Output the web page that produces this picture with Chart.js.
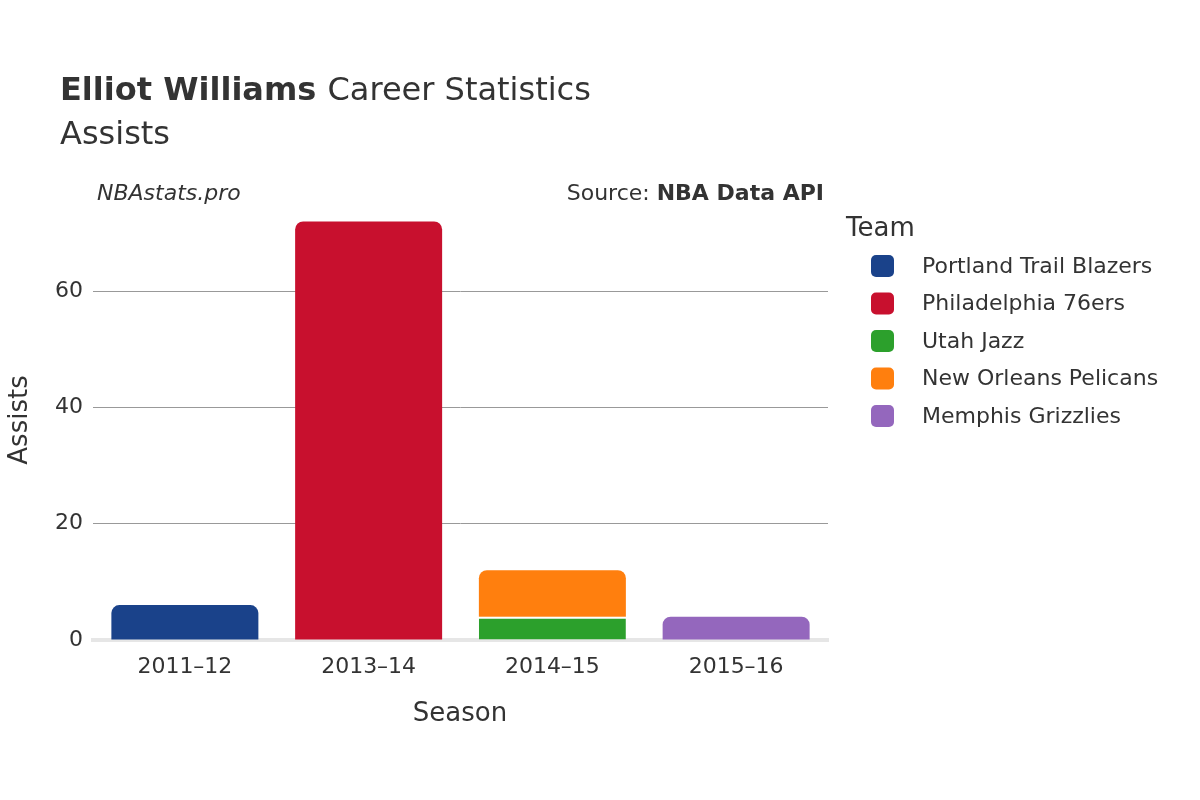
<!DOCTYPE html>
<html>
<head>
<meta charset="utf-8">
<script src="https://cdn.jsdelivr.net/npm/chart.js@4"></script>
<style>
  body { margin: 0; background: #fff; }
  #wrap { width: 1200px; height: 800px; }
</style>
</head>
<body>
<div id="wrap"><canvas id="chart" width="1200" height="800"></canvas></div>
<script>
const seasons = ['2011–12', '2013–14', '2014–15', '2015–16'];
const teams = ['Portland Trail Blazers', 'Philadelphia 76ers', 'Utah Jazz', 'New Orleans Pelicans', 'Memphis Grizzlies'];
const teamColors = ['#1a428a', '#c8102e', '#2ca02c', '#ff7f0e', '#9467bd'];
const portland = [6, null, null, null];
const philadelphia = [null, 72, null, null];
const utah = [null, null, 4, null];
const pelicans = [null, null, 8, null];
const memphis = [null, null, null, 4];
const yTicks = [0, 20, 40, 60];

const FONT = "'DejaVu Sans', 'Noto Sans', sans-serif";
const top8 = { topLeft: 8, topRight: 8, bottomLeft: 0, bottomRight: 0 };
const noRadius = 0;

// draws titles, axis titles and the legend around the plot
const decorations = {
  id: 'decorations',
  afterDraw(chart) {
    const ctx = chart.ctx;
    ctx.save();
    ctx.fillStyle = '#333';
    ctx.textBaseline = 'alphabetic';
    ctx.textAlign = 'left';
    ctx.font = 'bold 32px ' + FONT;
    ctx.fillText('Elliot Williams', 60, 100);
    const w = ctx.measureText('Elliot Williams ').width;
    ctx.font = '32px ' + FONT;
    ctx.fillText('Career Statistics', 60 + w, 100);
    ctx.fillText('Assists', 60, 144);

    ctx.font = 'italic 22px ' + FONT;
    ctx.fillText('NBAstats.pro', 97, 200);
    ctx.textAlign = 'right';
    ctx.font = 'bold 22px ' + FONT;
    ctx.fillText('NBA Data API', 824, 200);
    const bw = ctx.measureText('NBA Data API').width;
    ctx.font = '22px ' + FONT;
    ctx.fillText('Source: ', 824 - bw, 200);

    ctx.textAlign = 'center';
    ctx.font = '26px ' + FONT;
    ctx.fillText('Season', 460, 721);
    ctx.save();
    ctx.translate(27, 420);
    ctx.rotate(-Math.PI / 2);
    ctx.fillText('Assists', 0, 0);
    ctx.restore();

    ctx.textAlign = 'left';
    ctx.font = '26px ' + FONT;
    ctx.fillText('Team', 846, 236);
    ctx.font = '22px ' + FONT;
    teams.forEach((t, i) => {
      const y = 266 + i * 37.5;
      ctx.fillStyle = teamColors[i];
      ctx.beginPath();
      ctx.roundRect(871, y - 11, 23, 22, 5);
      ctx.fill();
      ctx.fillStyle = '#333';
      ctx.textBaseline = 'middle';
      ctx.fillText(t, 922, y + 1);
    });
    ctx.restore();
  }
};

const datasets = [portland, philadelphia, utah, pelicans, memphis].map((data, i) => ({
  label: teams[i],
  data: data,
  backgroundColor: teamColors[i],
  borderRadius: i === 2 ? noRadius : top8,
  borderSkipped: false,
  borderWidth: i === 2 ? { top: 2 } : 0,
  borderColor: '#fff',
  barPercentage: 0.8,
  categoryPercentage: 1.0
}));

new Chart(document.getElementById('chart'), {
  type: 'bar',
  data: { labels: seasons, datasets: datasets },
  options: {
    responsive: false,
    animation: false,
    layout: { padding: { left: 0, right: 372, top: 204, bottom: 0 } },
    plugins: { legend: { display: false }, tooltip: { enabled: false } },
    scales: {
      x: {
        stacked: true,
        grid: { display: false },
        border: { display: true, color: '#e6e6e6', width: 4 },
        ticks: { color: '#333', font: { family: FONT, size: 22 }, padding: 6 },
        afterFit(axis) { axis.height = 160; }
      },
      y: {
        stacked: true,
        min: 0,
        max: 75,
        afterBuildTicks(axis) { axis.ticks = yTicks.map(v => ({ value: v })); },
        grid: {
          color: ctx => ctx.tick && ctx.tick.value === 0 ? 'rgba(0,0,0,0)' : '#999',
          drawTicks: false
        },
        border: { display: false },
        ticks: { color: '#333', font: { family: FONT, size: 22 }, padding: 10 },
        afterFit(axis) { axis.width = 93; }
      }
    }
  },
  plugins: [decorations]
});
</script>
</body>
</html>
